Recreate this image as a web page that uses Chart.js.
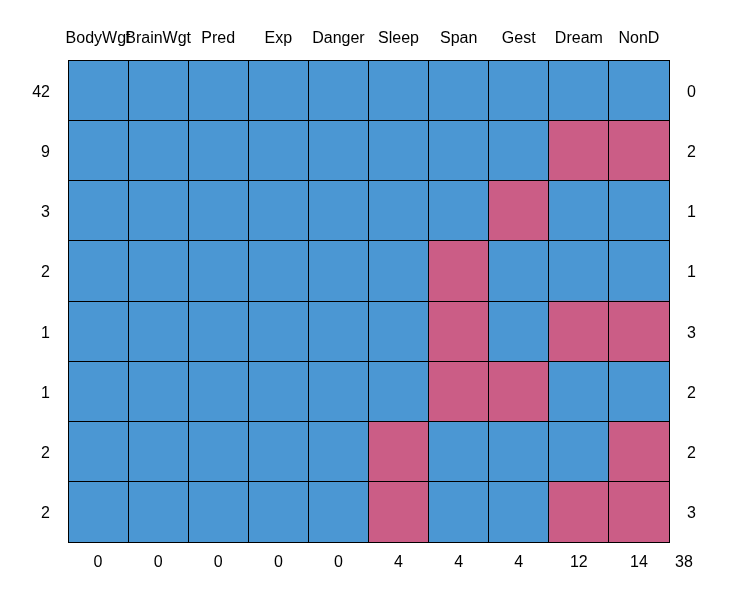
<!DOCTYPE html>
<html>
<head>
<meta charset="utf-8">
<script src="https://cdn.jsdelivr.net/npm/chart.js@4"></script>
<style>
  body { margin: 0; background: #fff; }
  #wrap { width: 732px; height: 600px; }
</style>
</head>
<body>
<div id="wrap"><canvas id="pattern" width="732" height="600"></canvas></div>
<script>
// missing data pattern (1 = observed, 0 = missing)
const columns = ['BodyWgt', 'BrainWgt', 'Pred', 'Exp', 'Danger', 'Sleep', 'Span', 'Gest', 'Dream', 'NonD'];
const rowCounts = [42, 9, 3, 2, 1, 1, 2, 2];
const rowMissing = [0, 2, 1, 1, 3, 2, 2, 3];
const colMissing = [0, 0, 0, 0, 0, 4, 4, 4, 12, 14];
const totalMissing = 38;
const pattern = [
  [1, 1, 1, 1, 1, 1, 1, 1, 1, 1],
  [1, 1, 1, 1, 1, 1, 1, 1, 0, 0],
  [1, 1, 1, 1, 1, 1, 1, 0, 1, 1],
  [1, 1, 1, 1, 1, 1, 0, 1, 1, 1],
  [1, 1, 1, 1, 1, 1, 0, 1, 0, 0],
  [1, 1, 1, 1, 1, 1, 0, 0, 1, 1],
  [1, 1, 1, 1, 1, 0, 1, 1, 1, 0],
  [1, 1, 1, 1, 1, 0, 1, 1, 0, 0],
];

const blue = '#4b97d3';
const pink = '#cb5d86';
const font = { family: "'Liberation Sans', Arial, sans-serif", size: 16 };

// one dataset per column, stacked along x
const datasets = columns.map((name, c) => ({
  label: name,
  data: pattern.map(() => 1),
  backgroundColor: pattern.map(row => row[c] ? blue : pink),
  borderWidth: 0,
  barPercentage: 1,
  categoryPercentage: 1,
}));

// total missing count in the bottom right corner
const totalPlugin = {
  id: 'totalLabel',
  afterDraw(chart) {
    const ctx = chart.ctx;
    const right = chart.scales.yRight;
    const bottom = chart.scales.xBottom;
    ctx.save();
    ctx.font = `${font.size}px ${font.family}`;
    ctx.fillStyle = '#000';
    ctx.textAlign = 'center';
    ctx.textBaseline = 'top';
    ctx.fillText(String(totalMissing), right.left + 15, bottom.top + 13);
    ctx.restore();
  },
};

new Chart(document.getElementById('pattern'), {
  type: 'bar',
  data: { labels: rowCounts.map(String), datasets },
  options: {
    indexAxis: 'y',
    responsive: false,
    animation: false,
    layout: { padding: 0 },
    plugins: { legend: { display: false }, tooltip: { enabled: false } },
    scales: {
      x: {
        type: 'linear', position: 'top', stacked: true, min: 0, max: 10,
        ticks: { display: false, stepSize: 1 },
        grid: { color: '#000', drawTicks: false, z: 1 },
        border: { color: '#000', z: 1 },
        afterFit: s => { s.height = 0; },
      },
      xTop: {
        type: 'category', axis: 'x', position: 'top', labels: columns, offset: true,
        ticks: { font, color: '#000', padding: 12, autoSkip: false, maxRotation: 0 },
        grid: { display: false, drawTicks: false },
        border: { color: '#000', z: 1 },
        afterFit: s => { s.height = 60; },
      },
      xBottom: {
        type: 'category', axis: 'x', position: 'bottom', labels: colMissing.map(String), offset: true,
        ticks: { font, color: '#000', padding: 11, autoSkip: false, maxRotation: 0 },
        grid: { display: false, drawTicks: false },
        border: { color: '#000', z: 1 },
        afterFit: s => { s.height = 58; },
      },
      y: {
        type: 'category', position: 'left', stacked: true, offset: true,
        ticks: { font, color: '#000', padding: 18, autoSkip: false, labelOffset: 2 },
        grid: { color: '#000', drawTicks: false, offset: true, z: 1 },
        border: { color: '#000', z: 1 },
        afterFit: s => { s.width = 68; },
      },
      yRight: {
        type: 'category', axis: 'y', position: 'right', labels: rowMissing.map(String), offset: true,
        ticks: { font, color: '#000', padding: 18, autoSkip: false, labelOffset: 2 },
        grid: { display: false, drawTicks: false },
        border: { color: '#000', z: 1 },
        afterFit: s => { s.width = 63; },
      },
    },
  },
  plugins: [totalPlugin],
});
</script>
</body>
</html>
